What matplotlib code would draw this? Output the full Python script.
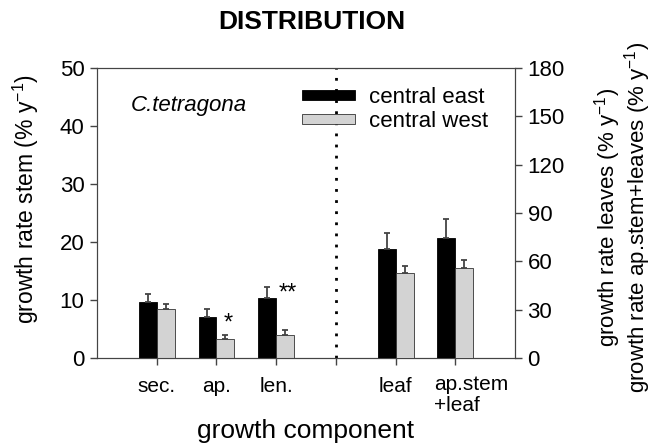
#!/usr/bin/env python3

import matplotlib
matplotlib.use('Agg')
import matplotlib.pyplot as plt
import matplotlib.transforms as mtransforms
from matplotlib.patches import Patch

# stem components (left axis, % y-1)
stem_labels = ['sec.', 'ap.', 'len.']
stem_east = [9.7, 7.0, 10.3]
stem_east_err = [1.3, 1.4, 1.9]
stem_west = [8.4, 3.3, 4.0]
stem_west_err = [0.9, 0.6, 0.8]
stem_marks = ['', '*', '**']
stem_mark_y = [0, 5.9, 11.1]

# leaf components (right axis, % y-1)
leaf_labels = ['leaf', 'ap.stem\n+leaf']
leaf_east = [67.7, 74.5]
leaf_east_err = [9.9, 11.8]
leaf_west = [52.8, 55.9]
leaf_west_err = [4.3, 4.9]

EAST = 'black'
WEST = '#d3d3d3'
AXC = '#444444'
W = 0.3

plt.rcParams['font.family'] = ['Liberation Sans', 'DejaVu Sans']
plt.rcParams['mathtext.fontset'] = 'custom'
plt.rcParams['mathtext.rm'] = 'Liberation Sans'
plt.rcParams['mathtext.it'] = 'Liberation Sans:italic'
plt.rcParams['mathtext.default'] = 'regular'
plt.rcParams['axes.edgecolor'] = AXC
plt.rcParams['xtick.color'] = AXC
plt.rcParams['ytick.color'] = AXC
plt.rcParams['xtick.labelcolor'] = 'black'
plt.rcParams['ytick.labelcolor'] = 'black'

fig = plt.figure(figsize=(6.52, 4.48), dpi=100)
ax = fig.add_axes([0.1488, 0.2009, 0.6411, 0.6473])
ax2 = ax.twinx()

err_kw = dict(ecolor=AXC, elinewidth=1.3, capsize=2.5, capthick=1.3)

xs = [1, 2, 3]
zeros = [0] * len(xs)
ax.bar([x - W / 2 for x in xs], stem_east, W, color=EAST, edgecolor='black', lw=0.6,
       yerr=[zeros, stem_east_err], error_kw=err_kw, zorder=3)
ax.bar([x + W / 2 for x in xs], stem_west, W, color=WEST, edgecolor='#333333', lw=0.6,
       yerr=[zeros, stem_west_err], error_kw=err_kw, zorder=3)
for x, m, y in zip(xs, stem_marks, stem_mark_y):
    if m:
        ax.text(x + W / 2 + 0.04, y, m, ha='center', va='center', fontsize=17)

xl = [5, 6]
zl = [0] * len(xl)
ax2.bar([x - W / 2 for x in xl], leaf_east, W, color=EAST, edgecolor='black', lw=0.6,
        yerr=[zl, leaf_east_err], error_kw=err_kw, zorder=3)
ax2.bar([x + W / 2 for x in xl], leaf_west, W, color=WEST, edgecolor='#333333', lw=0.6,
        yerr=[zl, leaf_west_err], error_kw=err_kw, zorder=3)

# divider between stem and leaf parts
ax.axvline(4, color='black', ls=(0, (1, 3)), lw=2, zorder=2)

ax.set_xlim(0, 7)
ax.set_ylim(0, 50)
ax2.set_ylim(0, 180)
ax.set_yticks(range(0, 51, 10))
ax2.set_yticks(range(0, 181, 30))

# last label is left-aligned and sits right of its tick, so draw it by hand
ax.set_xticks([1, 2, 3, 4, 5, 6])
ax.set_xticklabels(stem_labels + [''] + leaf_labels[:1] + [''])
lbl_tr = (mtransforms.blended_transform_factory(ax.transData, ax.transAxes) +
          mtransforms.ScaledTranslation(-21 / 100, 0, fig.dpi_scale_trans))
ax.text(xl[-1], -0.058, leaf_labels[-1], transform=lbl_tr, ha='left', va='top',
        fontsize=15, linespacing=1.15)

ax.tick_params(axis='x', direction='out', length=5, width=1, pad=9, labelsize=15)
ax.tick_params(axis='y', direction='out', length=5, width=1, pad=4, labelsize=16)
ax2.tick_params(axis='y', direction='out', length=5, width=1, pad=4, labelsize=16)

ax.set_ylabel('growth rate stem (% y$^{-1}$)', fontsize=16.5)
ax.yaxis.set_label_coords(-0.134, 0.548)
ax2.set_ylabel('growth rate leaves (% y$^{-1}$)\ngrowth rate ap.stem+leaves (% y$^{-1}$)',
               fontsize=16, linespacing=0.95, multialignment='center')
ax2.yaxis.set_label_coords(1.184, 0.485)
ax.set_xlabel('growth component', fontsize=19)
ax.xaxis.set_label_coords(0.5, -0.212)

ax.text(0.08, 0.87, 'C.tetragona', style='italic', fontsize=16,
        transform=ax.transAxes, va='center')

handles = [Patch(facecolor=EAST, edgecolor='black', lw=0.6),
           Patch(facecolor=WEST, edgecolor='#333333', lw=0.6)]
ax.legend(handles, ['central east', 'central west'], loc='upper left',
          bbox_to_anchor=(0.49, 0.935), frameon=False, fontsize=16,
          handlelength=2.4, handleheight=0.3, handletextpad=0.6,
          labelspacing=0.15, borderpad=0, borderaxespad=0)

fig.text(0.479, 0.951, 'DISTRIBUTION', fontsize=19, fontweight='bold',
         ha='center', va='center')

fig.savefig('out.png', dpi=100)
